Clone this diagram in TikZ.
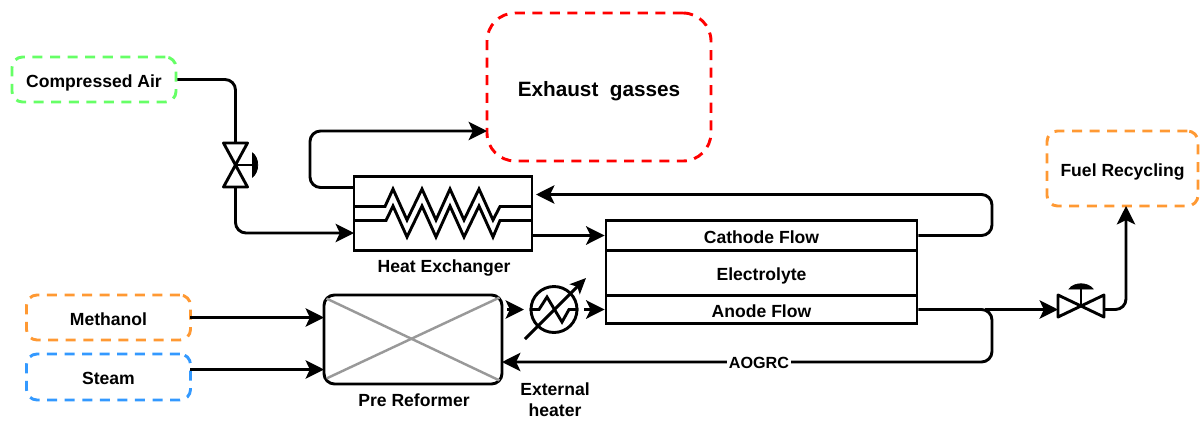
\documentclass[tikz,border=0pt]{standalone}
\usepackage{fontspec}
\setmainfont{Liberation Sans}
\usetikzlibrary{arrows.meta,calc}
\definecolor{verdeAir}{HTML}{66FF66}
\definecolor{rojoGas}{HTML}{FF0000}
\definecolor{naranjaFuel}{HTML}{FF9933}
\definecolor{azulSteam}{HTML}{3399FF}
\definecolor{grisX}{HTML}{999999}
\def\px{.02cm}
\tikzset{
  pipe/.style={line width=1.65pt,rounded corners=6pt},
  label/.style={font=\fontsize{10}{12}\bfseries\selectfont,inner sep=0pt},
  boxtext/.style={label,text height=9pt,text depth=0pt},
  source/.style={boxtext,draw,line width=1.65pt,dash pattern=on 5.7pt off 4.3pt,rounded corners=6pt,
    minimum width=164*\px,minimum height=45*\px},
  unitbox/.style={boxtext,draw,line width=1.65pt,minimum width=311*\px},
  valvebox/.style={inner sep=0pt,outer sep=0pt}
}
\begin{document}
\begin{tikzpicture}[x=.02cm,y=-.02cm,>={Stealth[length=10.5pt,width=10.5pt,inset=2.5pt]}]
  \useasboundingbox (0,0) rectangle (1200,420);
  % inlets and outlets
  \node[source,color=verdeAir,text=black] (air) at (94,79.5) {Compressed Air};
  \node[source,color=rojoGas,text=black,minimum width=224*\px,minimum height=148*\px,
    rounded corners=16pt,text height=10.6pt,font=\fontsize{11.8}{14}\bfseries\selectfont] (exhaust) at (599,87) {Exhaust\ \ gasses};
  \node[source,color=naranjaFuel,text=black,minimum width=151*\px,minimum height=75*\px] (fuel) at (1122.5,168.5) {Fuel Recycling};
  \node[source,color=naranjaFuel,text=black] (methanol) at (108.5,317.5) {Methanol};
  \node[source,color=azulSteam,text=black,minimum height=46*\px] (steam) at (108.5,377) {Steam};
  % cell stack
  \node[unitbox,minimum height=30*\px] (cathode) at (761.5,235.5) {Cathode Flow};
  \node[unitbox,minimum height=45*\px] (electrolyte) at (761.5,273) {Electrolyte};
  \node[unitbox,minimum height=28*\px] (anode) at (761.5,309.5) {Anode Flow};
  % heat exchanger
  \node[draw,line width=1.65pt,minimum width=178*\px,minimum height=74*\px] (hx) at (443,213.5) {};
  \draw[line width=1.65pt] (353,206.5) -- (385,206.5) -- (393,189) -- (407,220) -- (422,189) -- (436,220)
    -- (450,189) -- (464,220) -- (479,189) -- (493,220) -- (500,206.5) -- (532,206.5);
  \draw[line width=1.65pt] (353,220.5) -- (386,220.5) -- (393,206) -- (407,237) -- (422,206) -- (436,237)
    -- (450,206) -- (464,237) -- (479,206) -- (493,237) -- (500,220.5) -- (532,220.5);
  \node[label] (hxlabel) at (444,268) {Heat Exchanger};
  % pre reformer
  \node[draw,line width=1.65pt,rounded corners=6pt,minimum width=178*\px,minimum height=89*\px] (pre) at (413,339.5) {};
  \draw[grisX,line width=1.4pt] ($(pre.north west)+(4,5)$) -- ($(pre.south east)+(-4,-5)$);
  \draw[grisX,line width=1.4pt] ($(pre.south west)+(4,-7)$) -- ($(pre.north east)+(-4,4)$);
  \node[label] (prelabel) at (414,400) {Pre Reformer};
  % external heater
  \node[draw,circle,line width=1.65pt,inner sep=0pt,minimum size=46*\px] (heater) at (554,309.5) {};
  \draw[line width=1.65pt] (heater.west) -- (539,309.5) -- (547,297) -- (562,322) -- (569,309.5) -- (heater.east);
  \draw[line width=1.65pt,-{Stealth[length=9pt,width=8pt,inset=2pt]}] (525,339) -- (586,278);
  \node[label,align=center] (heaterlabel) at (555,400) {External\\heater};
  % valves
  \node[valvebox,minimum width=24*\px,minimum height=44*\px] (airvalve) at (235.5,165) {};
  \draw[line width=1.65pt,line join=round] (airvalve.center) -- (airvalve.north west) -- (airvalve.north east) -- cycle;
  \draw[line width=1.65pt,line join=round] (airvalve.center) -- (airvalve.south west) -- (airvalve.south east) -- cycle;
  \draw[line width=1.65pt] (airvalve.center) -- ++(17,0);
  \draw[fill=black] ([shift={(17,-12)}]airvalve.center) .. controls ([shift={(24,-7)}]airvalve.center)
    and ([shift={(24,7)}]airvalve.center) .. ([shift={(17,12)}]airvalve.center) -- cycle;
  \node[valvebox,minimum width=46*\px,minimum height=22*\px] (fuelvalve) at (1081,306) {};
  \draw[line width=1.65pt,line join=round] (fuelvalve.center) -- (fuelvalve.north west) -- (fuelvalve.south west) -- cycle;
  \draw[line width=1.65pt,line join=round] (fuelvalve.center) -- (fuelvalve.north east) -- (fuelvalve.south east) -- cycle;
  \draw[line width=1.65pt] (fuelvalve.center) -- ++(0,-18);
  \draw[fill=black] ([shift={(-12,-17)}]fuelvalve.center) .. controls ([shift={(-7,-24)}]fuelvalve.center)
    and ([shift={(7,-24)}]fuelvalve.center) .. ([shift={(12,-17)}]fuelvalve.center) -- cycle;
  % free ends
  \coordinate (hxin) at (354,233);
  \coordinate (hxout) at (532,235.5);
  \coordinate (hxgas) at (354,187.5);
  \coordinate (hxback) at (536,194.5);
  \coordinate (gasin) at (487,131);
  \coordinate (methanolout) at (190,317.5);
  \coordinate (prein1) at (324,317.5);
  \coordinate (prein2) at (324,369.5);
  \coordinate (steamout) at (190,369.5);
  \coordinate (preout) at (507,309.5);
  \coordinate (heaterin) at (524,309.5);
  \coordinate (heaterout) at (584,309.5);
  \coordinate (split) at (985,309.5);
  \coordinate (valvein) at (1058,309.5);
  \coordinate (valveout) at (1103,309.5);
  \coordinate (fuelin) at (1126,206);
  \coordinate (prereturn) at (502,362);
  % connectors
  \draw[pipe] (air.east) -| (airvalve.north);
  \draw[pipe,->] (airvalve.south) |- (hxin);
  \draw[pipe,->] (hxgas) -- (310,187.5) -- (310,131) -- (gasin);
  \draw[pipe,->] (hxout) -- (cathode.west);
  \draw[pipe,->] (cathode.east) -- (992,235.5) -- (992,194.5) -- (hxback);
  \draw[pipe,->] (methanolout) -- (prein1);
  \draw[pipe,->] (steamout) -- (prein2);
  \draw[pipe,->] (preout) -- (heaterin);
  \draw[pipe,->] (heaterout) -- (anode.west);
  \draw[pipe,->] (anode.east) -- (992,309.5) -- (992,362) -- (prereturn);
  \node[label,fill=white,inner xsep=1pt,font=\fontsize{9.2}{11}\bfseries\selectfont] (aogrc) at (759,362.5) {AOGRC};
  \draw[pipe,->] (split) -- (valvein);
  \draw[pipe,->] (valveout) -| (fuelin);
\end{tikzpicture}
\end{document}
